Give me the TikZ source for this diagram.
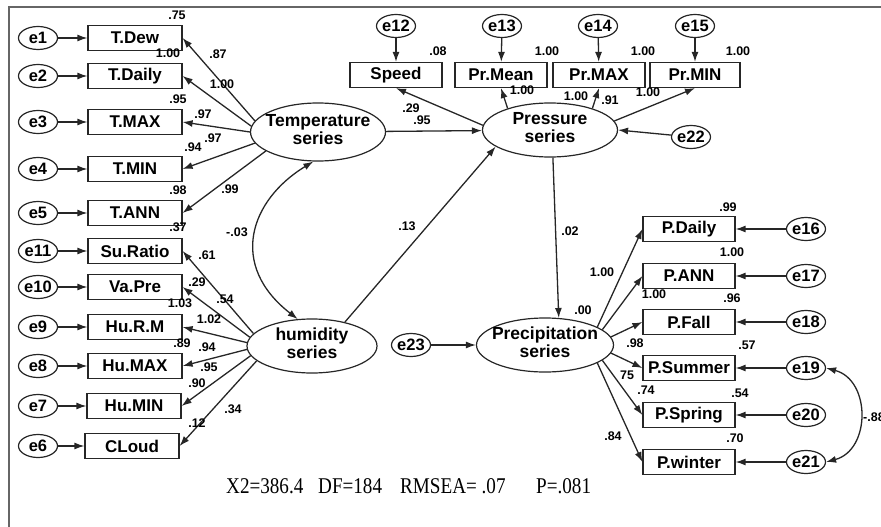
\documentclass[tikz,border=0pt]{standalone}
\usepackage{fontspec}
\usepackage{graphicx}
\setmainfont{Liberation Sans}
\newfontfamily\serifx{Liberation Serif}
\usetikzlibrary{arrows.meta,shapes.geometric}
\newcommand{\latlab}[2]{\makebox[0pt]{\begin{tabular}{@{}c@{}}#1\\#2\end{tabular}}}
\begin{document}
\begin{tikzpicture}[x=1pt,y=-1pt,
  ln/.style={line width=1.3pt, draw=black!85},
  arr/.style={ln, -{Latex[length=10pt,width=7pt]}},
  darr/.style={ln, {Latex[length=10pt,width=7pt]}-{Latex[length=10pt,width=7pt]}},
  obs/.style={draw=black!85, line width=1.2pt, minimum width=94pt, minimum height=25pt, inner sep=0pt, font=\fontsize{17}{18}\selectfont\bfseries},
  lat/.style={ellipse, draw=black!85, line width=1.2pt, minimum width=135pt, minimum height=55pt, inner sep=0pt, font=\fontsize{17.5}{18}\selectfont\bfseries},
  err/.style={ellipse, draw=black!85, line width=1.2pt, minimum width=39pt, minimum height=23pt, inner sep=0pt, font=\fontsize{16.5}{16}\selectfont\bfseries},
  cf/.style={font=\fontsize{12.5}{13}\selectfont\bfseries, inner sep=0pt},
  fit/.style={font=\serifx\fontsize{22.5}{24}\selectfont, inner sep=0pt, anchor=base west}
]
\useasboundingbox (0,0) rectangle (881,527);
% frame
\draw[line width=1.2pt, black!60] (9,560) -- (9,7) -- (900,7);

% left observed boxes
\node[obs] (tdew) at (135,38) {T.Dew};
\node[obs] (tdaily) at (135,76) {T.Daily};
\node[obs] (tmax) at (135,122) {T.MAX};
\node[obs] (tmin) at (135,169) {T.MIN};
\node[obs] (tann) at (135,213) {T.ANN};
\node[obs] (sur) at (135,251) {Su.Ratio};
\node[obs] (vap) at (135,287) {Va.Pre};
\node[obs] (hurm) at (135,327) {Hu.R.M};
\node[obs] (humax) at (135,366) {Hu.MAX};
\node[obs] (humin) at (134,406) {Hu.MIN};
\node[obs] (cloud) at (132,446) {CLoud};

% left errors
\node[err] (e1) at (38,38) {e1};
\node[err] (e2) at (38,76) {e2};
\node[err] (e3) at (38,122) {e3};
\node[err] (e4) at (38,169) {e4};
\node[err] (e5) at (38,213) {e5};
\node[err] (e11) at (38,251) {e11};
\node[err] (e10) at (38,287) {e10};
\node[err] (e9) at (38,327) {e9};
\node[err] (e8) at (38,366) {e8};
\node[err] (e7) at (38,406) {e7};
\node[err] (e6) at (38,446) {e6};

% latent variables
\node[lat, minimum height=58pt] (temp) at (318,132) {\latlab{Temperature}{series}};
\node[lat, minimum width=130pt, minimum height=54pt] (hum) at (312,346) {\latlab{humidity}{series}};
\node[lat, minimum height=54pt] (press) at (550,130) {\latlab{Pressure}{series}};
\node[lat, minimum width=137pt, minimum height=54pt] (prec) at (545,345) {\latlab{Precipitation}{series}};

% top boxes and errors
\node[obs, minimum width=92pt] (speed) at (396,75) {Speed};
\node[obs, minimum width=92pt] (prmean) at (501,75) {Pr.Mean};
\node[obs, minimum width=92pt] (prmax) at (599,75) {Pr.MAX};
\node[obs, minimum width=90pt] (prmin) at (695,75) {Pr.MIN};
\node[err] (e12) at (396,26) {e12};
\node[err] (e13) at (502,26) {e13};
\node[err] (e14) at (598,26) {e14};
\node[err] (e15) at (695,26) {e15};
\node[err] (e22) at (691,137) {e22};
\node[err] (e23) at (411,345) {e23};

% right boxes and errors
\node[obs, minimum width=92pt] (pdaily) at (689,229) {P.Daily};
\node[obs, minimum width=92pt] (pann) at (689,276) {P.ANN};
\node[obs, minimum width=92pt] (pfall) at (689,322) {P.Fall};
\node[obs, minimum width=92pt] (psum) at (689,368) {P.Summer};
\node[obs, minimum width=92pt] (pspr) at (689,415) {P.Spring};
\node[obs, minimum width=92pt] (pwin) at (689,462) {P.winter};
\node[err] (e16) at (806,229) {e16};
\node[err] (e17) at (806,276) {e17};
\node[err] (e18) at (806,322) {e18};
\node[err] (e19) at (806,368) {e19};
\node[err] (e20) at (806,415) {e20};
\node[err] (e21) at (806,462) {e21};

% error arrows
\foreach \a/\b in {e1/tdew,e2/tdaily,e3/tmax,e4/tmin,e5/tann,e11/sur,e10/vap,e9/hurm,e8/humax,e7/humin,e6/cloud,
  e12/speed,e13/prmean,e14/prmax,e15/prmin,e16/pdaily,e17/pann,e18/pfall,e19/psum,e20/pspr,e21/pwin,e23/prec}
  \draw[arr] (\a) -- (\b);
\draw[arr] (e22) -- (press.east);

% temperature loadings
\draw[arr] (temp.170) -- (tdew.east);
\draw[arr] (temp.175) -- (tdaily.east);
\draw[arr] (temp.180) -- (tmax.east);
\draw[arr] (temp.190) -- (tmin.east);
\draw[arr] (temp.200) -- (tann.east);

% humidity loadings
\draw[arr] (hum.168) -- (sur.east);
\draw[arr] (hum.172) -- (vap.east);
\draw[arr] (hum.177) -- (hurm.east);
\draw[arr] (hum.183) -- (humax.east);
\draw[arr] (hum.189) -- (humin.east);
\draw[arr] (hum.195) -- (cloud.east);

% pressure loadings
\draw[arr] (press.176) -- (speed.south);
\draw[arr] (press.153) -- (prmean.south);
\draw[arr] (press.27) -- (prmax.south);
\draw[arr] (press.8) -- (prmin.south);

% precipitation loadings
\draw[arr] (prec.19) -- (pdaily.west);
\draw[arr] (prec.15) -- (pann.west);
\draw[arr] (prec.7) -- (pfall.west);
\draw[arr] (prec.-7) -- (psum.west);
\draw[arr] (prec.-15) -- (pspr.west);
\draw[arr] (prec.-19) -- (pwin.west);

% structural paths
\draw[arr] (temp) -- (press);
\draw[arr] (hum.36) -- (press.197);
\draw[arr] (press.276) -- (prec.63);

% covariances
\draw[darr] (hum.118) .. controls (228,265) and (250,200) .. (temp.261);
\draw[darr] (e19.east) .. controls (871,380) and (871,450) .. (e21.east);

% coefficients
\node[cf] at (177,15) {.75};
\node[cf] at (168,53) {1.00};
\node[cf] at (218,54) {.87};
\node[cf] at (222,84) {1.00};
\node[cf] at (178,99) {.95};
\node[cf] at (203,114) {.97};
\node[cf] at (193,147) {.94};
\node[cf] at (213,138) {.97};
\node[cf] at (178,190) {.98};
\node[cf] at (230,189) {.99};
\node[cf] at (178,227) {.37};
\node[cf] at (237,232) {-.03};
\node[cf] at (207,255) {.61};
\node[cf] at (197,282) {.29};
\node[cf] at (225,299) {.54};
\node[cf] at (180,303) {1.03};
\node[cf] at (209,319) {1.02};
\node[cf] at (182,343) {.89};
\node[cf] at (207,347) {.94};
\node[cf] at (209,367) {.95};
\node[cf] at (197,383) {.90};
\node[cf] at (233,409) {.34};
\node[cf] at (197,423) {.12};
\node[cf] at (438,51) {.08};
\node[cf] at (547,51) {1.00};
\node[cf] at (522,90) {1.00};
\node[cf] at (576,96) {1.00};
\node[cf] at (610,100) {.91};
\node[cf] at (411,108) {.29};
\node[cf] at (422,120) {.95};
\node[cf] at (643,51) {1.00};
\node[cf] at (738,51) {1.00};
\node[cf] at (648,92) {1.00};
\node[cf] at (407,226) {.13};
\node[cf] at (570,231) {.02};
\node[cf] at (728,207) {.99};
\node[cf] at (732,252) {1.00};
\node[cf] at (602,272) {1.00};
\node[cf] at (654,294) {1.00};
\node[cf] at (732,298) {.96};
\node[cf] at (583,310) {.00};
\node[cf] at (635,343) {.98};
\node[cf] at (747,345) {.57};
\node[cf] at (627,375) {75};
\node[cf] at (646,390) {.74};
\node[cf] at (740,393) {.54};
\node[cf] at (613,436) {.84};
\node[cf] at (735,438) {.70};
\node[cf, anchor=west] at (863,417) {-.88};

% fit statistics
\node[fit] at (226,493) {\scalebox{0.85}[1]{X2=386.4}};
\node[fit] at (318,493) {\scalebox{0.85}[1]{DF=184}};
\node[fit] at (400,493) {\scalebox{0.85}[1]{RMSEA= .07}};
\node[fit] at (536,493) {\scalebox{0.85}[1]{P=.081}};
\end{tikzpicture}
\end{document}
